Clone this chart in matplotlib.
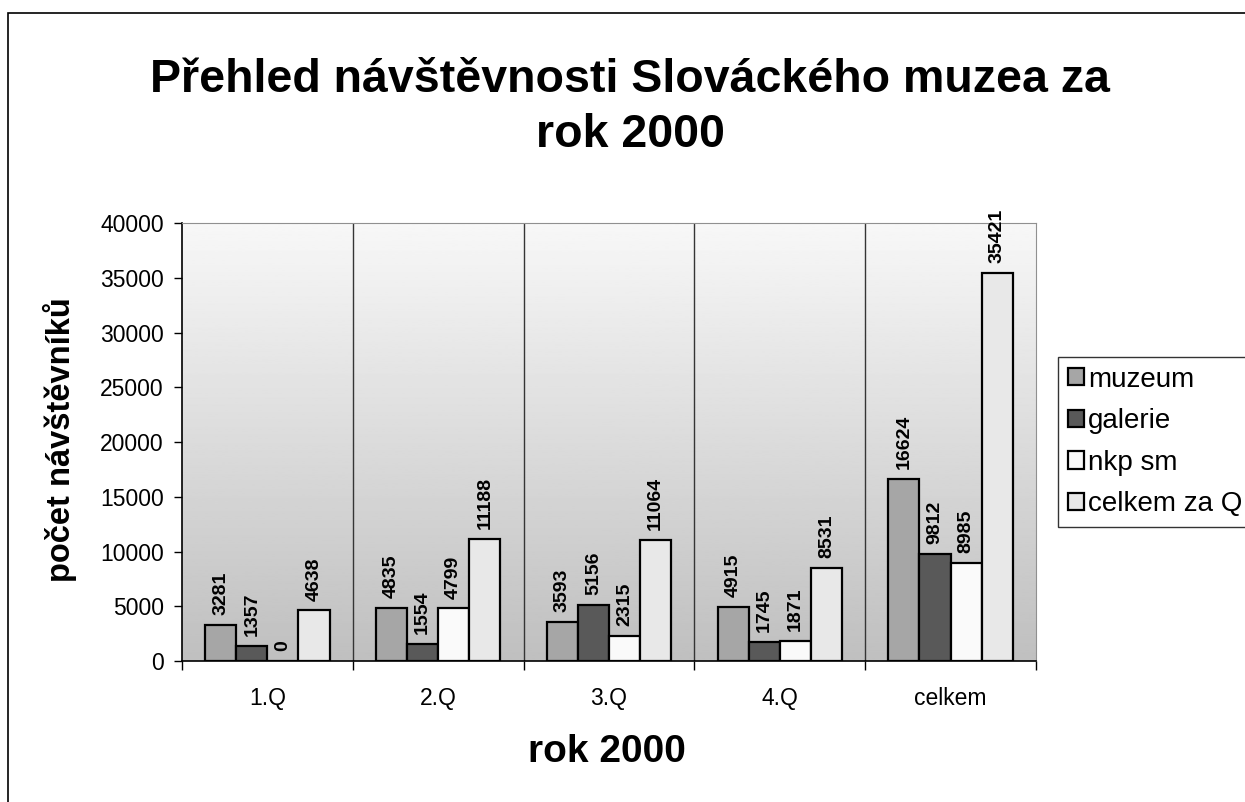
import matplotlib.pyplot as plt
import numpy as np
from matplotlib.patches import Rectangle

plt.rcParams['font.family'] = ['Liberation Sans', 'DejaVu Sans']

# Data
categories = ['1.Q', '2.Q', '3.Q', '4.Q', 'celkem']
muzeum = [3281, 4835, 3593, 4915, 16624]
galerie = [1357, 1554, 5156, 1745, 9812]
nkp_sm = [0, 4799, 2315, 1871, 8985]
celkem_za_q = [4638, 11188, 11064, 8531, 35421]

series = [('muzeum', muzeum, '#a6a6a6'),
          ('galerie', galerie, '#595959'),
          ('nkp sm', nkp_sm, '#fafafa'),
          ('celkem za Q', celkem_za_q, '#e8e8e8')]

fig = plt.figure(figsize=(12.45, 8.02), dpi=100)
ax = fig.add_axes([0.1462, 0.1758, 0.6859, 0.5461])

# outer chart border
fig.patches.append(Rectangle((8 / 1245, -0.01), 1.1, 1 - 13 / 802 + 0.01,
                             transform=fig.transFigure, fill=False,
                             edgecolor='black', linewidth=1.2))

x = np.arange(len(categories))
width = 0.182

# gradient background (light at top, gray at bottom)
grad = np.linspace(0.97, 0.75, 256).reshape(-1, 1)
ax.imshow(grad, cmap='gray', vmin=0, vmax=1, aspect='auto',
          extent=[-0.5, len(categories) - 0.5, 0, 40000], origin='upper', zorder=0)

for i, (name, vals, color) in enumerate(series):
    pos = x + (i - 1.5) * width
    bars = ax.bar(pos, vals, width, color=color, edgecolor='black',
                  linewidth=1.6, label=name, zorder=3)
    for b, v in zip(bars, vals):
        ax.annotate(str(v), (b.get_x() + b.get_width() / 2, v),
                    xytext=(0, 7), textcoords='offset points',
                    ha='center', va='bottom', rotation=90,
                    fontsize=14, fontweight='bold', zorder=4)

# category separators
for s in np.arange(0.5, len(categories) - 1, 1):
    ax.axvline(s, color='#353535', linewidth=1, zorder=1)

ax.set_xlim(-0.5, len(categories) - 0.5)
ax.set_ylim(0, 40000)
ax.set_yticks(np.arange(0, 40001, 5000))
ax.set_xticks(x)
ax.set_xticklabels(categories)
ax.set_xticks(np.arange(-0.5, len(categories), 1), minor=True)
ax.tick_params(axis='x', which='major', length=0, pad=19, labelsize=16.5)
ax.tick_params(axis='x', which='minor', length=6.5, width=1)
ax.tick_params(axis='y', length=6, width=1, labelsize=16.5, pad=7)

ax.spines['top'].set_color('#909090')
ax.spines['right'].set_color('#909090')
ax.spines['left'].set_linewidth(1.2)
ax.spines['bottom'].set_linewidth(1.2)

fig.text(60 / 1245, 1 - 440 / 802, 'počet návštěvníků', rotation=90,
         ha='center', va='center', fontsize=23.5, fontweight='bold')
fig.text(607 / 1245, 1 - 752 / 802, 'rok 2000', ha='center', va='center',
         fontsize=28, fontweight='bold')

fig.text(0.506, 0.90, 'Přehled návštěvnosti Slováckého muzea za',
         ha='center', va='center', fontsize=33.5, fontweight='bold')
fig.text(0.506, 0.832, 'rok 2000', ha='center', va='center',
         fontsize=33.5, fontweight='bold')

leg = fig.legend(loc='upper left', bbox_to_anchor=(1058 / 1245, 1 - 357 / 802),
                 fontsize=20, frameon=True, fancybox=False, edgecolor='black',
                 handlelength=0.57, handleheight=0.57, handletextpad=0.15,
                 labelspacing=0.56, borderpad=0.35, borderaxespad=0)
leg.get_frame().set_linewidth(1)

fig.savefig('out.png', dpi=100)
